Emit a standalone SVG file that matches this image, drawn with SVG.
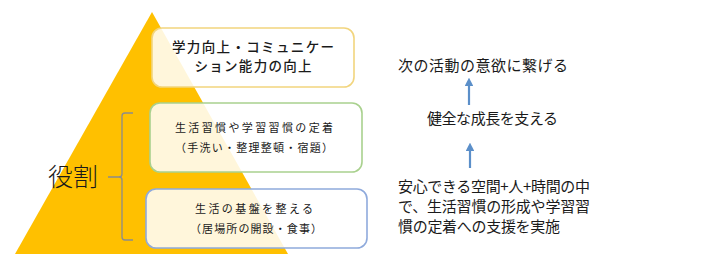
<svg xmlns="http://www.w3.org/2000/svg" width="707" height="271" viewBox="0 0 707 271">
<defs>
<style>
.jp{font-family:"Noto Sans CJK JP","Noto Sans CJK SC",sans-serif;fill:#1a1a1a;}
.box{fill:#ffffff;fill-opacity:0.86;stroke-width:1.6;}
.arrow{stroke:#5B8FC9;stroke-width:2.2;fill:none;}
</style>
<marker id="ah" viewBox="0 0 10 10" refX="5" refY="5" markerWidth="4" markerHeight="4" orient="auto-start-reverse">
<path d="M0,0 L10,5 L0,10 z" fill="#5B8FC9"/>
</marker>
</defs>
<rect width="707" height="271" fill="#ffffff"/>
<g id="pyramid">
<polygon points="152,12 15,254 288,254" fill="#FFC000"/>
</g>
<g id="box-top">
<rect class="box" x="152" y="28" width="202" height="59" rx="10" stroke="#F2D57E"/>
<text class="jp" font-size="13.5" font-weight="500" text-anchor="middle" x="253" y="52" textLength="162" lengthAdjust="spacing">学力向上・コミュニケー</text>
<text class="jp" font-size="13.5" font-weight="500" text-anchor="middle" x="253" y="71" textLength="117" lengthAdjust="spacing">ション能力の向上</text>
</g>
<g id="box-mid">
<rect class="box" x="150" y="103" width="212" height="69" rx="10" stroke="#A9D18E"/>
<text class="jp" font-size="11" text-anchor="middle" x="254" y="132" textLength="158" lengthAdjust="spacing">生活習慣や学習習慣の定着</text>
<text class="jp" font-size="11" text-anchor="middle" x="254" y="152" textLength="158" lengthAdjust="spacing">（手洗い・整理整頓・宿題）</text>
</g>
<g id="box-bottom">
<rect class="box" x="146" y="189" width="221" height="59" rx="10" stroke="#8FAADC"/>
<text class="jp" font-size="11" text-anchor="middle" x="254" y="213" textLength="118" lengthAdjust="spacing">生活の基盤を整える</text>
<text class="jp" font-size="11" text-anchor="middle" x="256" y="233" textLength="132" lengthAdjust="spacing">（居場所の開設・食事）</text>
</g>
<g id="role">
<path d="M133,113 L125,113 Q122,113 122,116 L122,174 Q122,177 119,177 L108,177 M119,177 Q122,177 122,180 L122,237 Q122,240 125,240 L133,240" fill="none" stroke="#8C8C8C" stroke-width="1.3"/>
<text class="jp" font-size="25" x="48" y="186" font-weight="300" fill="#262626">役割</text>
</g>
<g id="text-goal">
<text class="jp" font-size="15" x="398" y="71" textLength="170" lengthAdjust="spacing">次の活動の意欲に繋げる</text>
</g>
<g id="text-growth">
<text class="jp" font-size="15" x="427" y="124" textLength="131" lengthAdjust="spacing">健全な成長を支える</text>
</g>
<g id="text-support">
<text class="jp" font-size="15" x="398" y="192" textLength="192" lengthAdjust="spacing">安心できる空間+人+時間の中</text>
<text class="jp" font-size="15" x="398" y="212" textLength="192" lengthAdjust="spacing">で、生活習慣の形成や学習習</text>
<text class="jp" font-size="15" x="398" y="232" textLength="162" lengthAdjust="spacing">慣の定着への支援を実施</text>
</g>
<g id="connectors">
<line class="arrow" x1="469" y1="105" x2="469" y2="82" marker-end="url(#ah)"/>
<line class="arrow" x1="470" y1="168" x2="470" y2="147" marker-end="url(#ah)"/>
</g>
</svg>
